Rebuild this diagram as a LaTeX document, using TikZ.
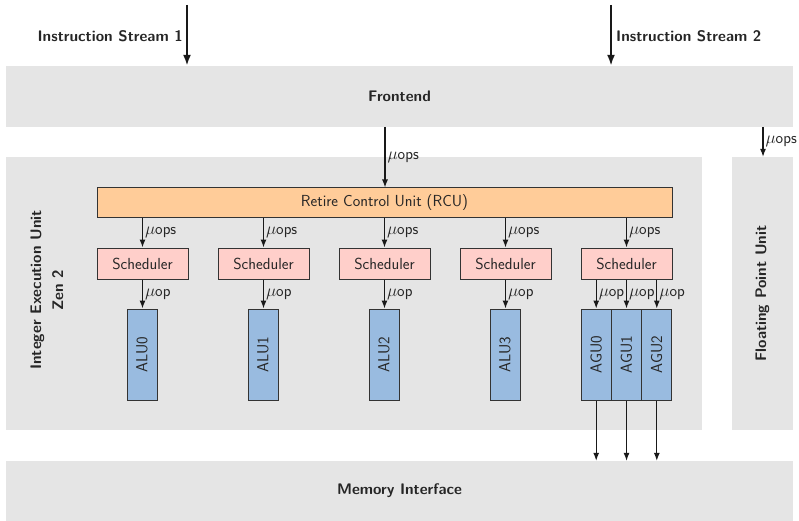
\documentclass[tikz,border=0pt]{standalone}
\usetikzlibrary{arrows.meta}
\definecolor{bgray}{HTML}{E5E5E5}
\definecolor{rcucol}{HTML}{FFCC99}
\definecolor{schedcol}{HTML}{FFCFCA}
\definecolor{alucol}{HTML}{99BBE0}
\definecolor{edgecol}{HTML}{333333}
\begin{document}
\begin{tikzpicture}[x=1pt,y=-1pt,
  font=\fontsize{16}{19}\selectfont\sffamily,
  region/.style={fill=bgray, draw=none, inner sep=0pt},
  regtext/.style={font=\fontsize{15.3}{22}\selectfont\sffamily\bfseries, text=black!85, align=center},
  unitbox/.style={draw=edgecol, line width=1pt, inner sep=0pt, text=black!85},
  rcubox/.style={unitbox, fill=rcucol, minimum width=575pt, minimum height=29pt},
  schedbox/.style={unitbox, fill=schedcol, minimum width=91pt, minimum height=31pt},
  alubox/.style={unitbox, fill=alucol, minimum width=30pt, minimum height=91pt},
  agubox/.style={unitbox, fill=alucol, minimum width=30.33pt, minimum height=91pt},
  flow/.style={draw=black!90, line width=1.1pt, -{Latex[length=8pt,width=6pt]}},
  bigflow/.style={draw=black!90, line width=2pt, -{Latex[length=11pt,width=8pt]}},
  elabel/.style={midway, right, inner sep=2pt, text=black!85}
]
\useasboundingbox (0,0) rectangle (799,521);

% regions
\node[region, minimum width=787pt, minimum height=61pt] (fe) at (399.5,96.5) {};
\node[regtext] at (fe.center) {Frontend};
\node[region, minimum width=696pt, minimum height=273pt] (ieu) at (354,293.5) {};
\node[regtext, rotate=90] (ieulbl) at (47,290) {Integer Execution Unit\\Zen 2};
\node[region, minimum width=61pt, minimum height=273pt] (fpu) at (762.5,293.5) {};
\node[regtext, rotate=90] (fpulbl) at (fpu.center) {Floating Point Unit};
\node[region, minimum width=787pt, minimum height=60pt] (mem) at (399.5,491) {};
\node[regtext] at (mem.center) {Memory Interface};

% instruction streams
\coordinate (is1) at (187,5);
\coordinate (is2) at (611,5);
\draw[bigflow] (is1) -- (is1 |- fe.north);
\draw[bigflow] (is2) -- (is2 |- fe.north);
\node[regtext, anchor=east, inner sep=0pt] (is1lbl) at (183,36) {Instruction Stream 1};
\node[regtext, anchor=west, inner sep=0pt] (is2lbl) at (616,36) {Instruction Stream 2};

% RCU
\node[rcubox] (rcu) at (384.5,202.5) {Retire Control Unit (RCU)};
\draw[flow] (385,127) coordinate (feout) -- (feout |- rcu.north) node[elabel] {$\mu$ops};

% FPU feed
\coordinate (fpin) at (763,127);
\draw[flow] (fpin) -- (fpin |- fpu.north) node[elabel] {$\mu$ops};

% schedulers
\node[schedbox] (s0) at (142.5,263.5) {Scheduler};
\node[schedbox] (s1) at (263.5,263.5) {Scheduler};
\node[schedbox] (s2) at (384.5,263.5) {Scheduler};
\node[schedbox] (s3) at (505.5,263.5) {Scheduler};
\node[schedbox] (s4) at (626.5,263.5) {Scheduler};
\foreach \s in {s0,s1,s2,s3,s4}
  \draw[flow] (\s.north |- rcu.south) -- (\s.north) node[elabel] {$\mu$ops};

% ALUs
\node[alubox] (a0) at (142,354.5) {\rotatebox{90}{ALU0}};
\node[alubox] (a1) at (263,354.5) {\rotatebox{90}{ALU1}};
\node[alubox] (a2) at (384,354.5) {\rotatebox{90}{ALU2}};
\node[alubox] (a3) at (505,354.5) {\rotatebox{90}{ALU3}};
\draw[flow] (s0.south) -- (s0.south |- a0.north) node[elabel] {$\mu$op};
\draw[flow] (s1.south) -- (s1.south |- a1.north) node[elabel] {$\mu$op};
\draw[flow] (s2.south) -- (s2.south |- a2.north) node[elabel] {$\mu$op};
\draw[flow] (s3.south) -- (s3.south |- a3.north) node[elabel] {$\mu$op};

% AGUs
\node[agubox] (g0) at (596.2,354.5) {\rotatebox{90}{AGU0}};
\node[agubox] (g1) at (626.5,354.5) {\rotatebox{90}{AGU1}};
\node[agubox] (g2) at (656.8,354.5) {\rotatebox{90}{AGU2}};
\foreach \g in {g0,g1,g2} {
  \draw[flow] (\g.north |- s4.south) -- (\g.north) node[elabel] {$\mu$op};
  \draw[flow] (\g.south) -- (\g.south |- mem.north);
}
\end{tikzpicture}
\end{document}
